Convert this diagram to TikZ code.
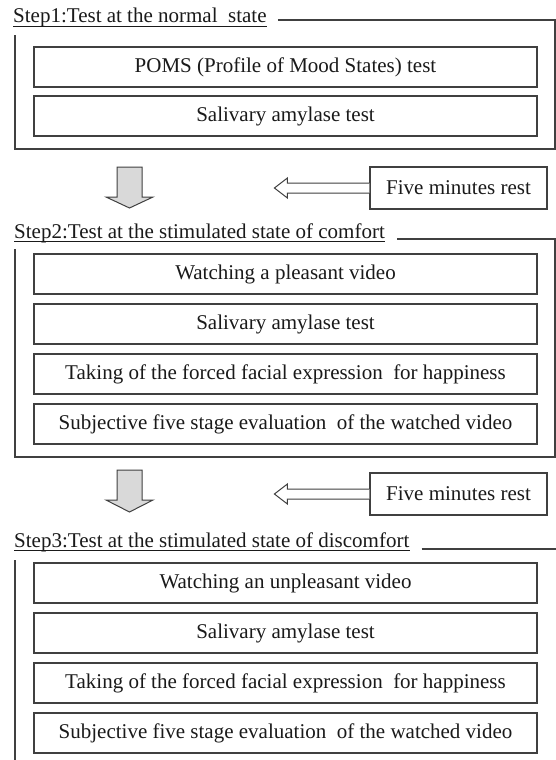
\documentclass[tikz,border=0pt]{standalone}
\usepackage{fontspec}
\setmainfont{Liberation Serif}
\definecolor{ln}{HTML}{404040}
\definecolor{tx}{HTML}{1A1A1A}
\definecolor{arrowfill}{HTML}{D9D9D9}
\begin{document}
\begin{tikzpicture}[x=1pt,y=-1pt,
  every node/.style={font=\fontsize{21}{25}\selectfont, text=tx},
  stepbox/.style={draw=ln, line width=1.2pt, minimum width=503pt, minimum height=40pt, inner sep=0pt},
  restbox/.style={draw=ln, line width=1.2pt, minimum width=177pt, minimum height=42pt, inner sep=0pt},
  titletext/.style={anchor=base west, inner sep=0pt},
  frameline/.style={draw=ln, line width=1.2pt},
  ulline/.style={draw=tx, line width=0.9pt},
  downarrow/.style={draw=ln, line width=1pt, fill=arrowfill, line join=miter},
  hollowarrow/.style={draw=ln, line width=1pt, fill=white, line join=miter}]
\useasboundingbox (0,0) rectangle (556,760);
\fill[white] (0,0) rectangle (556,760);

% ---------- Step 1 ----------
\node[titletext] (t1) at (13,23) {Step1:Test at the normal\ \ state};
\draw[ulline] ([yshift=-3pt]t1.base west) -- ([yshift=-3pt]t1.base east);
\draw[frameline] ([xshift=11pt]t1.east |- 0,20) -- (555,20) -- (555,149) -- (15,149) -- (15,35);
\node[stepbox] (s1a) at (285.5,67) {POMS (Profile of Mood States) test};
\node[stepbox] (s1b) at (285.5,116) {Salivary amylase test};

% ---------- arrow + rest 1 ----------
\coordinate (d1) at (129.5,167);
\draw[downarrow] (d1) ++(-12.5,0) -- ++(25,0) -- ++(0,30) -- ++(11,0) -- ++(-23.5,11) -- ++(-23.5,-11) -- ++(11,0) -- cycle;
\node[restbox] (r1) at (458.5,188) {Five minutes rest};
\draw[hollowarrow] ([yshift=5pt]r1.west) -- ++(-82,0) -- ++(0,-5) -- ++(-13,10) -- ++(13,10) -- ++(0,-5) -- ([yshift=-5pt]r1.west);

% ---------- Step 2 ----------
\node[titletext] (t2) at (14,238) {Step2:Test at the stimulated state of comfort};
\draw[ulline] ([yshift=-3pt]t2.base west) -- ([yshift=-3pt]t2.base east);
\draw[frameline] ([xshift=12pt]t2.east |- 0,239) -- (555,239) -- (555,457) -- (15,457) -- (15,249);
\node[stepbox] (s2a) at (285.5,274) {Watching a pleasant video};
\node[stepbox] (s2b) at (285.5,324) {Salivary amylase test};
\node[stepbox] (s2c) at (285.5,374) {Taking of the forced facial expression\ \ for happiness};
\node[stepbox] (s2d) at (285.5,424) {Subjective five stage evaluation\ \ of the watched video};

% ---------- arrow + rest 2 ----------
\coordinate (d2) at (129.5,470);
\draw[downarrow] (d2) ++(-12.5,0) -- ++(25,0) -- ++(0,30) -- ++(11,0) -- ++(-23.5,12) -- ++(-23.5,-12) -- ++(11,0) -- cycle;
\node[restbox] (r2) at (458.5,494) {Five minutes rest};
\draw[hollowarrow] ([yshift=5pt]r2.west) -- ++(-82,0) -- ++(0,-5) -- ++(-13,10) -- ++(13,10) -- ++(0,-5) -- ([yshift=-5pt]r2.west);

% ---------- Step 3 ----------
\node[titletext] (t3) at (14,547) {Step3:Test at the stimulated state of discomfort};
\draw[ulline] ([yshift=-3pt]t3.base west) -- ([yshift=-3pt]t3.base east);
\draw[frameline] ([xshift=12pt]t3.east |- 0,549) -- (556,549);
\draw[frameline] (15,560) -- (15,760);
\node[stepbox] (s3a) at (285.5,583) {Watching an unpleasant video};
\node[stepbox] (s3b) at (285.5,633) {Salivary amylase test};
\node[stepbox] (s3c) at (285.5,683) {Taking of the forced facial expression\ \ for happiness};
\node[stepbox] (s3d) at (285.5,733) {Subjective five stage evaluation\ \ of the watched video};
\end{tikzpicture}
\end{document}
